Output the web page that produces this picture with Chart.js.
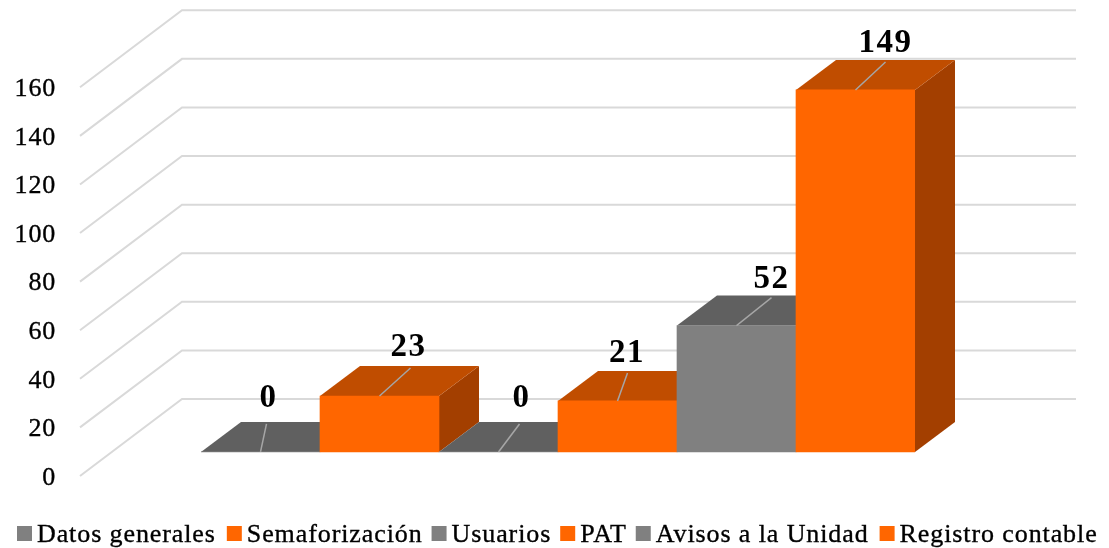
<!DOCTYPE html>
<html>
<head>
<meta charset="utf-8">
<title>Avance por módulo</title>
<script src="https://cdn.jsdelivr.net/npm/chart.js@4/dist/chart.umd.min.js"></script>
<style>
  html, body { margin: 0; padding: 0; background: #fff; }
  canvas { display: block; }
</style>
</head>
<body>
<canvas id="grafica" width="1109" height="548"></canvas>
<script>
// Datos
const categorias = ['Datos generales', 'Semaforización', 'Usuarios', 'PAT', 'Avisos a la Unidad', 'Registro contable'];
const valores = [0, 23, 0, 21, 52, 149];
const tipoColor = ['gris', 'naranja', 'gris', 'naranja', 'gris', 'naranja'];

const colores = {
  gris: { frente: '#808080', arriba: '#606060', lado: '#525252' },
  naranja: { frente: '#FF6600', arriba: '#C04D00', lado: '#A33F00' }
};
const fuente = '"Liberation Serif", serif';

// Profundidad de la pared del fondo y de las barras
const paredDx = 102, paredDy = 77, paredX = 80, paredFin = 1076;
const barraDx = 40, barraDy = 30;
// Desplazamiento de cada linea guia y etiqueta respecto a su barra
const lineaDx = [6, 31, 21, 10, 35, 30];
const etiquetaDx = [8, 29, 23, 9.5, 35, 30];
const etiquetaDy = [45, 40, 45, 39, 38, 38];
// Separacion tras cada elemento de la leyenda
const leyendaGap = [11, 9, 9, 9, 11, 0];

// Rejilla en perspectiva y caras oscuras de las barras
const caja3d = {
  id: 'caja3d',
  beforeDraw(chart) {
    chart.ctx.letterSpacing = '0.8px';
  },
  beforeDatasetsDraw(chart) {
    const ctx = chart.ctx;
    const y = chart.scales.y;
    ctx.save();
    ctx.strokeStyle = '#D9D9D9';
    ctx.lineWidth = 2;
    y.ticks.forEach(t => {
      const py = y.getPixelForValue(t.value);
      ctx.beginPath();
      ctx.moveTo(paredX, py);
      ctx.lineTo(paredX + paredDx, py - paredDy);
      ctx.lineTo(paredFin, py - paredDy);
      ctx.stroke();
    });
    chart.getDatasetMeta(0).data.forEach((bar, i) => {
      const c = colores[tipoColor[i]];
      const izq = bar.x - bar.width / 2;
      const der = bar.x + bar.width / 2;
      ctx.fillStyle = c.lado;
      ctx.beginPath();
      ctx.moveTo(der, bar.base);
      ctx.lineTo(der + barraDx, bar.base - barraDy);
      ctx.lineTo(der + barraDx, bar.y - barraDy);
      ctx.lineTo(der, bar.y);
      ctx.closePath();
      ctx.fill();
      ctx.fillStyle = c.arriba;
      ctx.beginPath();
      ctx.moveTo(izq, bar.y);
      ctx.lineTo(izq + barraDx, bar.y - barraDy);
      ctx.lineTo(der + barraDx, bar.y - barraDy);
      ctx.lineTo(der, bar.y);
      ctx.closePath();
      ctx.fill();
    });
    ctx.restore();
  },
  afterDatasetsDraw(chart) {
    const ctx = chart.ctx;
    ctx.save();
    chart.getDatasetMeta(0).data.forEach((bar, i) => {
      ctx.strokeStyle = '#A6A6A6';
      ctx.lineWidth = 1.5;
      ctx.beginPath();
      ctx.moveTo(bar.x, bar.y);
      ctx.lineTo(bar.x + lineaDx[i], bar.y - barraDy + 2);
      ctx.stroke();
      ctx.fillStyle = '#000';
      ctx.font = 'bold 33px ' + fuente;
      ctx.letterSpacing = '1.5px';
      ctx.textAlign = 'center';
      ctx.textBaseline = 'alphabetic';
      ctx.fillText(String(valores[i]), bar.x + etiquetaDx[i], bar.y - etiquetaDy[i]);
    });
    ctx.restore();
  }
};

// Leyenda de una sola linea, cuadro y texto muy juntos
const leyenda = {
  id: 'leyenda',
  afterDraw(chart) {
    const ctx = chart.ctx;
    let x = 17;
    ctx.save();
    ctx.font = '26px ' + fuente;
    ctx.letterSpacing = '0.9px';
    ctx.textAlign = 'left';
    ctx.textBaseline = 'alphabetic';
    ctx.strokeStyle = '#000';
    ctx.lineWidth = 0.35;
    categorias.forEach((nombre, i) => {
      ctx.fillStyle = colores[tipoColor[i]].frente;
      ctx.fillRect(x, 526, 15, 15);
      ctx.fillStyle = '#000';
      ctx.fillText(nombre, x + 20, 542);
      ctx.strokeText(nombre, x + 20, 542);
      x += 20 + ctx.measureText(nombre).width + leyendaGap[i];
    });
    ctx.restore();
  }
};

new Chart(document.getElementById('grafica'), {
  type: 'bar',
  data: {
    labels: categorias,
    datasets: [{
      data: valores,
      backgroundColor: tipoColor.map(t => colores[t].frente),
      borderWidth: 0,
      barPercentage: 1,
      categoryPercentage: 1,
      yAxisID: 'yBarras'
    }]
  },
  options: {
    responsive: false,
    animation: false,
    layout: { padding: { top: 10, bottom: 72, left: 0, right: 194 } },
    plugins: { legend: { display: false }, tooltip: { enabled: false } },
    scales: {
      x: { display: false },
      // Eje visible, en el plano delantero
      y: {
        min: 0,
        max: 191.8,
        grid: { display: false },
        border: { display: false },
        afterFit(scale) {
          scale.width = 201;
          scale.paddingTop = 0;
          scale.paddingBottom = 0;
        },
        afterBuildTicks(scale) { scale.ticks = scale.ticks.filter(t => t.value <= 160); },
        ticks: {
          stepSize: 20,
          autoSkip: false,
          padding: 137,
          labelOffset: 2,
          color: '#000',
          textStrokeColor: '#000',
          textStrokeWidth: 0.35,
          font: { family: fuente, size: 26 }
        }
      },
      // Las barras van a media profundidad
      yBarras: { display: false, min: -9.9, max: 181.9 }
    }
  },
  plugins: [caja3d, leyenda]
});
</script>
</body>
</html>
